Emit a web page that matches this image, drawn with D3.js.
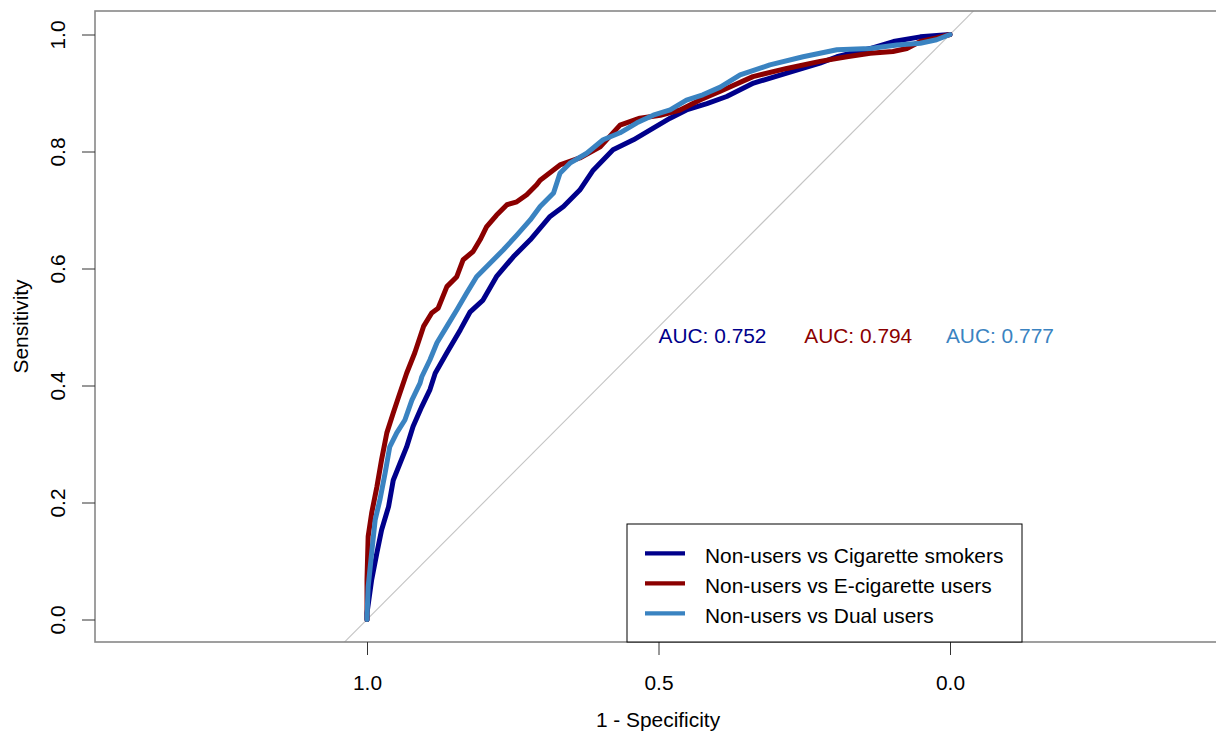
<!DOCTYPE html>
<html>
<head>
<meta charset="utf-8">
<script src="https://cdn.jsdelivr.net/npm/d3@7"></script>
<style>
  body { margin: 0; background: #fff; }
  svg { display: block; }
  text { font-family: "Liberation Sans", Arial, sans-serif; }
</style>
</head>
<body>
<svg id="chart" width="1216" height="734"></svg>
<script>
// ---- data (specificity, sensitivity) ----
const seriesNames = ["Non-users vs Cigarette smokers", "Non-users vs E-cigarette users", "Non-users vs Dual users"];
const seriesColors = ["#00008B", "#8B0000", "#3A83C1"];
const aucValues = ["0.752", "0.794", "0.777"];

const cigSpec = [1.000,1.000,0.992,0.983,0.975,0.963,0.955,0.943,0.932,0.921,0.906,0.892,0.883,0.863,0.840,0.823,0.801,0.778,0.749,0.720,0.686,0.663,0.635,0.612,0.578,0.543,0.509,0.480,0.452,0.417,0.383,0.337,0.280,0.223,0.194,0.137,0.097,0.051,0.000];
const cigSens = [0.000,0.011,0.068,0.114,0.153,0.193,0.238,0.268,0.295,0.330,0.364,0.393,0.421,0.456,0.495,0.526,0.546,0.586,0.620,0.649,0.689,0.706,0.734,0.768,0.803,0.820,0.840,0.857,0.871,0.882,0.894,0.917,0.934,0.951,0.962,0.976,0.988,0.996,1.000];

const ecigSpec = [1.000,1.000,0.998,0.992,0.983,0.975,0.966,0.955,0.946,0.932,0.918,0.903,0.889,0.878,0.863,0.846,0.835,0.818,0.806,0.795,0.778,0.760,0.743,0.726,0.709,0.703,0.669,0.635,0.600,0.566,0.532,0.497,0.463,0.429,0.394,0.338,0.280,0.223,0.177,0.137,0.098,0.074,0.051,0.023,0.000];
const ecigSens = [0.000,0.068,0.142,0.182,0.227,0.273,0.319,0.353,0.380,0.421,0.456,0.501,0.524,0.532,0.569,0.586,0.615,0.629,0.649,0.671,0.691,0.709,0.714,0.726,0.743,0.751,0.777,0.789,0.808,0.845,0.857,0.862,0.871,0.888,0.903,0.928,0.942,0.954,0.962,0.968,0.971,0.976,0.988,0.994,1.000];

const dualSpec = [1.000,1.000,0.998,0.992,0.986,0.978,0.969,0.961,0.949,0.935,0.923,0.909,0.906,0.892,0.880,0.863,0.846,0.829,0.812,0.789,0.766,0.743,0.720,0.703,0.680,0.669,0.652,0.623,0.595,0.566,0.537,0.509,0.480,0.452,0.424,0.394,0.360,0.309,0.252,0.194,0.137,0.091,0.051,0.023,0.000];
const dualSens = [0.000,0.005,0.056,0.114,0.170,0.204,0.250,0.295,0.319,0.341,0.375,0.404,0.415,0.444,0.473,0.501,0.529,0.558,0.586,0.609,0.632,0.657,0.683,0.706,0.729,0.763,0.780,0.797,0.820,0.832,0.849,0.862,0.871,0.888,0.897,0.910,0.931,0.948,0.962,0.974,0.976,0.982,0.985,0.991,1.000];

const xTicks = [1.0, 0.5, 0.0];
const yTicks = [0.0, 0.2, 0.4, 0.6, 0.8, 1.0];

// ---- layout ----
const box = { left: 95, top: 11, right: 1222, bottom: 642 };
const svg = d3.select("#chart");
const x = d3.scaleLinear().domain([1, 0]).range([367, 950]);
const y = d3.scaleLinear().domain([0, 1]).range([619.5, 34.5]);
const FONT = 20.9;

svg.append("defs").append("clipPath").attr("id", "clip")
  .append("rect").attr("x", box.left).attr("y", box.top)
  .attr("width", box.right - box.left).attr("height", box.bottom - box.top);

// diagonal reference line
svg.append("line")
  .attr("clip-path", "url(#clip)")
  .attr("x1", x(1.2)).attr("y1", y(-0.2))
  .attr("x2", x(-0.2)).attr("y2", y(1.2))
  .attr("stroke", "#c4c4c4").attr("stroke-width", 1.1);

// curves
const series = [
  { spec: cigSpec, sens: cigSens },
  { spec: ecigSpec, sens: ecigSens },
  { spec: dualSpec, sens: dualSens }
];
const line = d3.line().x(d => x(d[0])).y(d => y(d[1]));
series.forEach((s, i) => {
  const pts = s.spec.map((v, j) => [v, s.sens[j]]);
  svg.append("path")
    .attr("d", line(pts))
    .attr("fill", "none")
    .attr("stroke", seriesColors[i])
    .attr("stroke-width", 5)
    .attr("stroke-linejoin", "round")
    .attr("stroke-linecap", "round");
});

// AUC labels
const aucPos = [0.5, 0.25, 0.007];
aucValues.forEach((v, i) => {
  svg.append("text")
    .attr("x", x(aucPos[i])).attr("y", y(0.5) + 16)
    .attr("font-size", FONT).attr("fill", seriesColors[i])
    .text("AUC: " + v);
});

// plot box
svg.append("rect")
  .attr("x", box.left).attr("y", box.top)
  .attr("width", box.right - box.left).attr("height", box.bottom - box.top)
  .attr("fill", "none").attr("stroke", "#888").attr("stroke-width", 1.6);

// x axis
const xAxis = svg.append("g").attr("transform", `translate(0,${box.bottom})`)
  .call(d3.axisBottom(x).tickValues(xTicks).tickFormat(d3.format(".1f")).tickSize(13).tickPadding(20));
xAxis.select(".domain").remove();
xAxis.selectAll("line").attr("stroke", "#333");
xAxis.selectAll("text").attr("font-size", FONT).attr("fill", "#000")
  .attr("font-family", "Liberation Sans, Arial, sans-serif");

// y axis
const yAxis = svg.append("g").attr("transform", `translate(${box.left},0)`)
  .call(d3.axisLeft(y).tickValues(yTicks).tickFormat(d3.format(".1f")).tickSize(13));
yAxis.select(".domain").remove();
yAxis.selectAll("line").attr("stroke", "#333");
yAxis.selectAll("text").remove();
yAxis.selectAll(".tick").append("text")
  .attr("transform", "translate(-30,0) rotate(-90)")
  .attr("text-anchor", "middle").attr("dy", 0)
  .attr("font-size", FONT).attr("fill", "#000")
  .attr("font-family", "Liberation Sans, Arial, sans-serif")
  .text(d => d3.format(".1f")(d));

// axis titles
svg.append("text").attr("x", 658).attr("y", 727).attr("text-anchor", "middle")
  .attr("font-size", FONT).text("1 - Specificity");
svg.append("text").attr("transform", `translate(28,${(box.top + box.bottom) / 2}) rotate(-90)`)
  .attr("text-anchor", "middle").attr("font-size", FONT).text("Sensitivity");

// legend
const lg = svg.append("g");
lg.append("rect").attr("x", 627).attr("y", 524).attr("width", 395).attr("height", 118)
  .attr("fill", "#fff").attr("stroke", "#000").attr("stroke-width", 1);
seriesNames.forEach((n, i) => {
  const ly = 553.3 + i * 30;
  lg.append("line").attr("x1", 645).attr("x2", 685).attr("y1", ly).attr("y2", ly)
    .attr("stroke", seriesColors[i]).attr("stroke-width", 4.2);
  lg.append("text").attr("x", 705).attr("y", ly + 9.5).attr("font-size", FONT).text(n);
});
</script>
</body>
</html>
